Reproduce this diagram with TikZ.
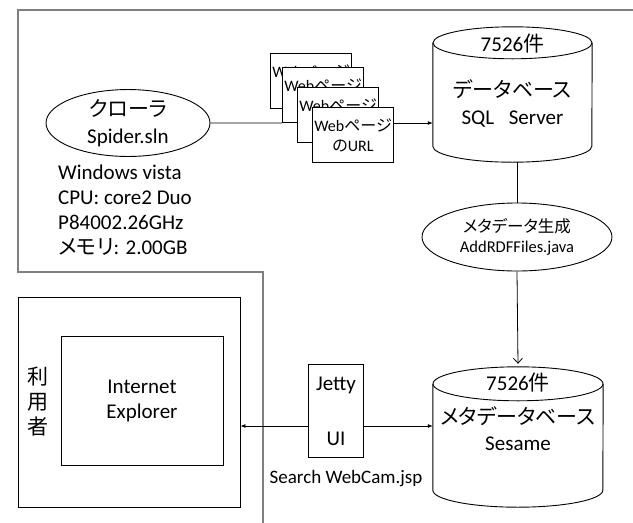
\documentclass[tikz,border=0pt]{standalone}
\usepackage{fontspec}
\setmainfont{Carlito}
\newfontfamily\jp[RawFeature=+palt]{Noto Sans CJK JP}
\usetikzlibrary{arrows.meta,positioning,shapes.geometric}

\begin{document}
\begin{tikzpicture}[
  x=1pt,y=-1pt,
  every node/.style={font=\fontsize{21}{25}\selectfont,align=center,inner sep=0pt},
  frame/.style={draw=black!50,line width=1.6pt},
  box/.style={draw,line width=0.9pt,fill=white},
  page/.style={box,minimum width=81pt,minimum height=55pt,font=\fontsize{16}{20}\selectfont},
  dbline/.style={line width=0.9pt},
  arr/.style={-{Latex[length=5pt,width=4pt]},line width=0.8pt},
  line/.style={line width=0.8pt}
]
\useasboundingbox (0,0) rectangle (633,523);

% ============================================================
% server side (outline)
% ============================================================
\draw[frame] (633,10) -| (18,272) -| (263,523);

\node[draw,ellipse,line width=0.9pt,minimum width=164pt,minimum height=47pt] (crawler) at (128,123)
    {{\jp クローラ}\\[2pt]Spider.sln};
\node[align=left,anchor=west] (spec) at (58,210)
    {Windows vista\\CPU: core2 Duo\\P84002.26GHz\\{\jp メモリ}: 2.00GB};

% stacked web pages
\foreach \i/\x/\y in {1/311/81,2/323/95,3/338/115,4/353/135}
  \node[page] (web\i) at (\x,\y) {Web{\jp ページ}\\{\jp の}URL};

\draw[line] (crawler.east) -- (web2.south west);

% ============================================================
% databases
% ============================================================
\node[minimum width=159pt,minimum height=135pt] (sqldb) at (512.5,94.5) {};
\draw[dbline] ([yshift=-16pt]sqldb.north) ellipse [x radius=79.5pt,y radius=16pt];
\draw[dbline] ([yshift=-16pt]sqldb.north west) -- ([yshift=16pt]sqldb.south west)
    arc [start angle=180,end angle=360,x radius=79.5pt,y radius=16pt]
    -- ([yshift=-16pt]sqldb.north east);
\node at ([yshift=-17pt]sqldb.north) {7526{\jp 件}};
\node at ([yshift=-9pt]sqldb.center) {{\jp データベース}\\[2pt]SQL\hspace{0.7em}Server};

\draw[arr] (crawler.east -| web4.east) -- (crawler.east -| sqldb.west);

\node[draw,ellipse,line width=0.9pt,minimum width=190pt,minimum height=68pt,
      font=\fontsize{16.5}{20}\selectfont] (meta) at (517,237)
    {{\jp メタデータ生成}\\AddRDFFiles.java};
\draw[line] (meta.north |- sqldb.south) -- (meta.north);

\node[minimum width=170pt,minimum height=140pt] (sesame) at (518,437) {};
\draw[dbline] ([yshift=-17pt]sesame.north) ellipse [x radius=85pt,y radius=17pt];
\draw[dbline] ([yshift=-17pt]sesame.north west) -- ([yshift=17pt]sesame.south west)
    arc [start angle=180,end angle=360,x radius=85pt,y radius=17pt]
    -- ([yshift=-17pt]sesame.north east);
\node at ([yshift=-16pt]sesame.north) {7526{\jp 件}};
\node at ([yshift=8pt]sesame.center) {{\jp メタデータベース}\\[1pt]Sesame};

\draw[line,-{Straight Barb[length=5pt,width=9pt]}] (meta.south) -- ([yshift=3pt]sesame.north);

% ============================================================
% user side
% ============================================================
\node[draw,line width=0.9pt,minimum width=222pt,minimum height=210pt] (user) at (129,402) {};
\node[draw,line width=0.9pt,minimum width=162pt,minimum height=129pt] (ie) at (142,401)
    {Internet\\Explorer};
\node[font=\jp\fontsize{21}{25}\selectfont] (userlbl) at (38,402) {利\\用\\者};

\node[box,minimum width=55pt,minimum height=93pt] (jetty) at (336,411) {Jetty\\[30pt]UI};
\node[below=12pt of jetty,xshift=10pt,font=\fontsize{19}{22}\selectfont] (jsp) {Search WebCam.jsp};

\coordinate (uiy) at (0,426);
\draw[arr] (jetty.west |- uiy) -- (user.east |- uiy);
\draw[arr] (jetty.east |- uiy) -- (sesame.west |- uiy);

\end{tikzpicture}
\end{document}
